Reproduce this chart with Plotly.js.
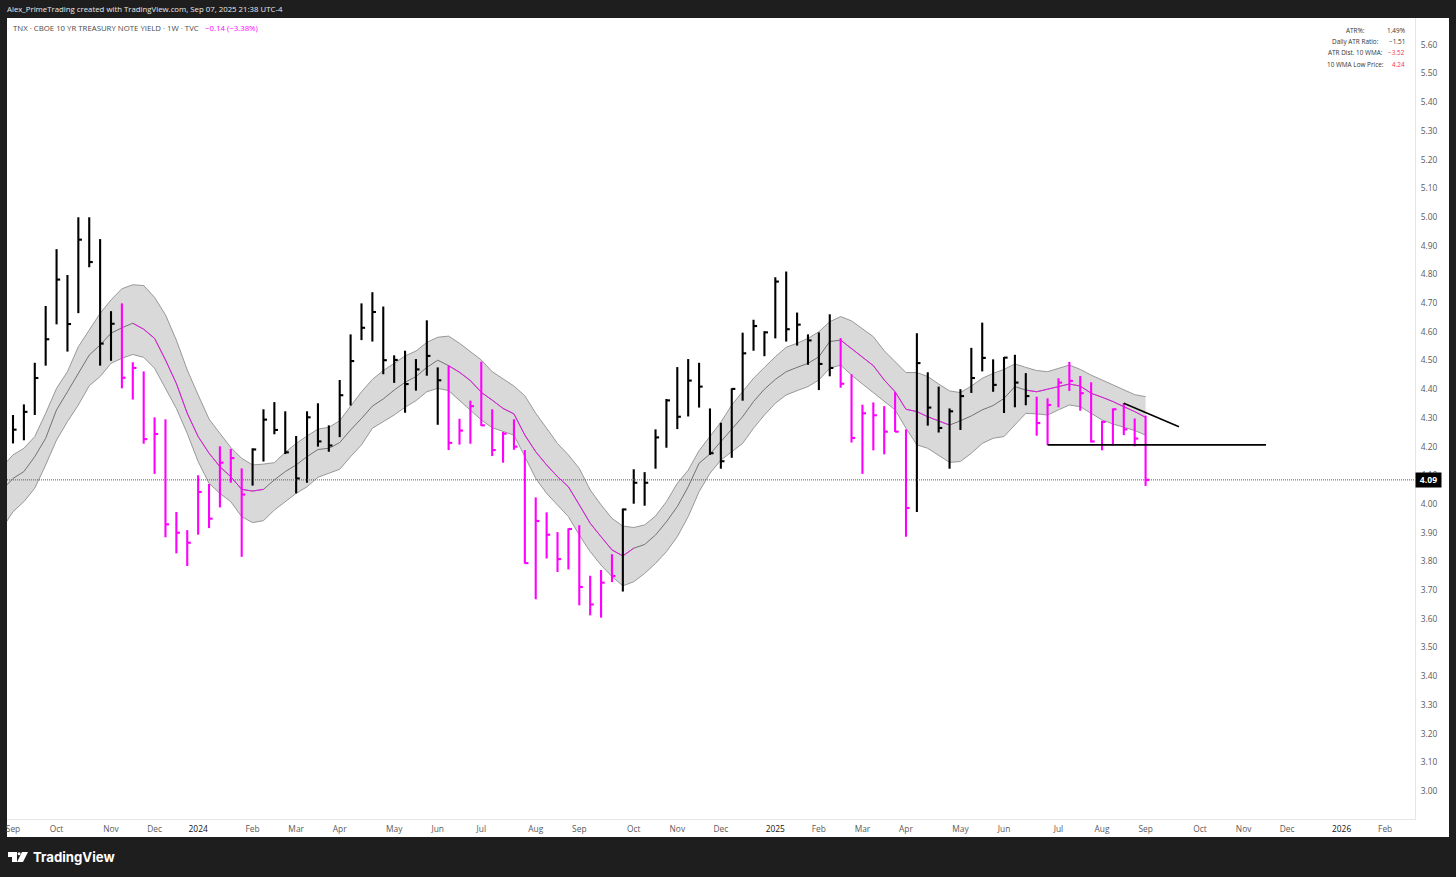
<!DOCTYPE html>
<html>
<head>
<meta charset="utf-8">
<script src="https://cdn.plot.ly/plotly-3.0.1.min.js"></script>
<style>html,body{margin:0;padding:0;background:#1e1e1e;overflow:hidden}#c{width:1456px;height:877px}</style>
</head>
<body>
<div id="c"></div>
<script>
const high = [4.310,4.347,4.492,4.690,4.888,4.798,4.999,4.999,4.923,4.672,
4.699,4.494,4.462,4.302,4.295,3.972,3.909,4.100,4.070,4.201,
4.192,4.124,4.194,4.330,4.355,4.323,4.237,4.323,4.351,4.274,
4.432,4.591,4.699,4.738,4.688,4.518,4.534,4.505,4.640,4.476,
4.482,4.297,4.360,4.496,4.330,4.251,4.295,4.188,4.023,3.971,
3.902,3.915,3.926,3.750,3.770,3.825,3.984,4.121,4.111,4.260,
4.366,4.477,4.505,4.492,4.333,4.283,4.403,4.597,4.642,4.602,
4.790,4.810,4.667,4.591,4.598,4.661,4.578,4.452,4.346,4.354,
4.341,4.390,4.260,4.595,4.459,4.409,4.333,4.400,4.544,4.632,
4.504,4.512,4.520,4.456,4.374,4.368,4.438,4.495,4.446,4.424,
4.290,4.333,4.352,4.298,4.308];
const low = [4.211,4.222,4.310,4.482,4.626,4.531,4.665,4.825,4.482,4.499,
4.403,4.364,4.210,4.105,3.884,3.828,3.784,3.893,3.916,3.988,
4.074,3.816,4.064,4.148,4.243,4.174,4.037,4.074,4.200,4.182,
4.233,4.343,4.571,4.566,4.452,4.422,4.318,4.395,4.447,4.276,
4.188,4.207,4.210,4.272,4.167,4.144,4.189,3.792,3.668,3.810,
3.763,3.772,3.647,3.612,3.604,3.728,3.695,4.001,3.994,4.123,
4.196,4.261,4.305,4.336,4.171,4.123,4.161,4.360,4.534,4.515,
4.577,4.566,4.552,4.485,4.397,4.445,4.405,4.214,4.105,4.187,
4.173,4.251,3.886,3.972,4.273,4.249,4.123,4.258,4.387,4.462,
4.391,4.317,4.337,4.344,4.238,4.206,4.337,4.394,4.325,4.214,
4.187,4.203,4.240,4.201,4.063];
const close = [4.259,4.321,4.439,4.574,4.782,4.627,4.921,4.843,4.559,4.628,
4.440,4.474,4.226,4.244,3.929,3.900,3.865,4.042,3.949,4.144,
4.160,4.033,4.190,4.294,4.258,4.180,4.089,4.302,4.218,4.204,
4.379,4.498,4.614,4.669,4.501,4.502,4.418,4.469,4.516,4.431,
4.213,4.256,4.341,4.274,4.188,4.245,4.200,3.794,3.941,3.893,
3.808,3.913,3.711,3.650,3.726,3.749,3.981,4.074,4.074,4.232,
4.361,4.304,4.430,4.409,4.177,4.149,4.401,4.525,4.620,4.598,
4.775,4.609,4.625,4.570,4.488,4.474,4.419,4.230,4.316,4.309,
4.252,4.252,3.986,4.491,4.336,4.265,4.323,4.376,4.439,4.509,
4.415,4.510,4.423,4.376,4.282,4.345,4.423,4.429,4.386,4.218,
4.286,4.330,4.260,4.228,4.084];
// WMA channel values start one week before the first visible bar (index -1)
const bandUpper = [4.130,
4.171,4.194,4.235,4.316,4.403,4.461,4.548,4.606,4.664,4.711,
4.750,4.764,4.761,4.720,4.659,4.571,4.467,4.380,4.296,4.246,
4.197,4.159,4.136,4.139,4.144,4.180,4.211,4.237,4.261,4.267,
4.290,4.341,4.391,4.434,4.465,4.490,4.516,4.533,4.563,4.581,
4.585,4.560,4.531,4.502,4.461,4.436,4.411,4.377,4.316,4.264,
4.211,4.171,4.124,4.049,3.997,3.950,3.923,3.918,3.927,3.958,
4.008,4.072,4.118,4.186,4.237,4.285,4.345,4.391,4.438,4.476,
4.513,4.546,4.560,4.577,4.600,4.635,4.653,4.638,4.612,4.583,
4.534,4.496,4.458,4.458,4.444,4.418,4.394,4.388,4.411,4.438,
4.455,4.469,4.488,4.476,4.465,4.461,4.473,4.484,4.469,4.449,
4.432,4.415,4.397,4.381,4.374];
const wmaMid = [4.049,
4.089,4.113,4.165,4.229,4.328,4.391,4.455,4.519,4.554,4.595,
4.614,4.630,4.609,4.577,4.502,4.420,4.316,4.235,4.177,4.130,
4.095,4.051,4.045,4.051,4.084,4.113,4.136,4.165,4.190,4.194,
4.214,4.258,4.298,4.341,4.366,4.397,4.424,4.444,4.476,4.501,
4.482,4.459,4.430,4.389,4.362,4.333,4.314,4.240,4.182,4.136,
4.095,4.060,3.997,3.933,3.886,3.840,3.819,3.846,3.859,3.892,
3.938,3.991,4.060,4.142,4.174,4.217,4.258,4.304,4.357,4.400,
4.434,4.461,4.476,4.490,4.513,4.566,4.571,4.542,4.513,4.482,
4.432,4.391,4.330,4.322,4.304,4.289,4.275,4.290,4.307,4.328,
4.343,4.368,4.409,4.397,4.391,4.400,4.409,4.418,4.411,4.386,
4.372,4.357,4.339,4.322,4.302];
const bandLower = [3.915,
3.973,4.008,4.055,4.136,4.223,4.287,4.345,4.412,4.444,4.490,
4.508,4.521,4.511,4.473,4.403,4.333,4.246,4.148,4.072,4.037,
4.008,3.956,3.935,3.942,3.979,4.008,4.037,4.060,4.093,4.107,
4.121,4.165,4.206,4.264,4.287,4.310,4.337,4.360,4.391,4.403,
4.395,4.360,4.328,4.293,4.266,4.252,4.240,4.165,4.089,4.037,
3.997,3.956,3.892,3.834,3.787,3.747,3.715,3.729,3.758,3.793,
3.834,3.886,3.956,4.043,4.107,4.153,4.182,4.211,4.264,4.310,
4.351,4.380,4.395,4.409,4.432,4.473,4.484,4.449,4.418,4.389,
4.357,4.328,4.264,4.206,4.194,4.171,4.145,4.148,4.177,4.211,
4.229,4.235,4.275,4.316,4.314,4.310,4.328,4.345,4.339,4.316,
4.293,4.279,4.267,4.256,4.240];
const magentaBarRanges = [[10,21],[40,55],[76,82],[94,104]];
const magentaWmaRanges = [[11,23],[40,57],[76,86],[93,104]];
const xTickIndex = [0,4,9,13,17,22,26,30,35,39,43,48,52,57,61,65,70,74,78,82,87,91,96,100,104,109,113,117,122,126];
const xTickLabels = ['Sep','Oct','Nov','Dec','2024','Feb','Mar','Apr','May','Jun','Jul','Aug','Sep','Oct','Nov','Dec','2025','Feb','Mar','Apr','May','Jun','Jul','Aug','Sep','Oct','Nov','Dec','2026','Feb'];
const yTicks = [3.0,3.1,3.2,3.3,3.4,3.5,3.6,3.7,3.8,3.9,4.0,4.1,4.2,4.3,4.4,4.5,4.6,4.7,4.8,4.9,5.0,5.1,5.2,5.3,5.4,5.5,5.6];
const lastPrice = 4.084, lastPriceLabel = '4.09';
const supportLevel = 4.206, supportFrom = 95, supportTo = 115.06;
const trendX = [102, 107.07], trendY = [4.351, 4.269];
const statLabels = ['ATR%:','Daily ATR Ratio:','ATR Dist. 10 WMA:','10 WMA Low Price:'];
const statValues = ['1.49%','−1.51','−3.52','4.24'];
const statColors = ['#333333','#333333','#f23645','#f23645'];

const W=1456,H=877,L=7,R=1415,T=18,B=819;
const MAG='#ff00ff';
const px=x=>(x-L)/(R-L), py=y=>(B-y)/(B-T);
const isMag=i=>magentaBarRanges.some(r=>i>=r[0]&&i<=r[1]);
const wIdx=bandUpper.map((_,k)=>k-1);

function barTrace(pred,color){
  const x=[],y=[];
  high.forEach((h,i)=>{ if(!pred(i))return;
    x.push(i,i,null,i,i+0.33,null);
    y.push(low[i],h,null,close[i],close[i],null);
  });
  return {type:'scatter',mode:'lines',x,y,line:{color,width:2.1},hoverinfo:'skip',connectgaps:false};
}
const traces=[
 {type:'scatter',mode:'lines',x:wIdx,y:bandUpper,line:{color:'#989898',width:1},hoverinfo:'skip'},
 {type:'scatter',mode:'lines',x:wIdx,y:bandLower,line:{color:'#989898',width:1},fill:'tonexty',fillcolor:'#d9d9d9',hoverinfo:'skip'},
 {type:'scatter',mode:'lines',x:wIdx,y:wmaMid,line:{color:'#666666',width:0.9},hoverinfo:'skip'}
];
magentaWmaRanges.forEach(r=>{
  traces.push({type:'scatter',mode:'lines',x:wIdx.slice(r[0]+1,r[1]+2),y:wmaMid.slice(r[0]+1,r[1]+2),line:{color:MAG,width:0.8},hoverinfo:'skip'});
});
traces.push(barTrace(i=>!isMag(i),'#000000'));
traces.push(barTrace(isMag,MAG));
traces.push({type:'scatter',mode:'lines',x:[supportFrom,supportTo],y:[supportLevel,supportLevel],line:{color:'#000',width:1.8},hoverinfo:'skip'});
traces.push({type:'scatter',mode:'lines',x:trendX,y:trendY,line:{color:'#000',width:1.5},hoverinfo:'skip'});

const FONT='"Open Sans", Roboto, sans-serif';
const note=(x,y,text,color,size,anchor,extra)=>Object.assign({xref:'paper',yref:'paper',x:px(x),y:py(y),text,showarrow:false,xanchor:anchor||'left',yanchor:'middle',font:{family:FONT,size,color},borderpad:0},extra||{});
const anns=[
 note(6,9,'Alex_PrimeTrading created with TradingView.com, Sep 07, 2025 21:38 UTC-4','#e8e8e8',7.8),
 note(12,27.5,'TNX · CBOE 10 YR TREASURY NOTE YIELD · 1W · TVC','#4a4a4a',7.8),
 note(204,27.5,'−0.14 (−3.38%)',MAG,7.8),
 note(32,857,'<b>TradingView</b>','#ffffff',13.2,'left',{font:{family:'Inter, Roboto, sans-serif',size:13.2,color:'#ffffff'}})
];
statLabels.forEach((t,i)=>{
  const y=[30,41.5,52.5,64][i];
  anns.push(note(1355,y,t,'#333333',6.4,'center'));
  anns.push(note(1405.5,y,statValues[i],statColors[i],6.4,'right'));
});
anns.push({xref:'paper',yref:'y',x:px(1428),y:lastPrice,text:'<b>'+lastPriceLabel+'</b>',showarrow:false,xanchor:'center',yanchor:'middle',bgcolor:'#000000',width:25,height:14,borderpad:0,font:{family:FONT,size:8.6,color:'#ffffff'}});

const rectP=(x0,y0,x1,y1,fill)=>({type:'rect',xref:'paper',yref:'paper',x0:px(x0),x1:px(x1),y0:py(y0),y1:py(y1),fillcolor:fill,line:{width:0},layer:'below'});
const P=(x,y)=>px(x).toFixed(5)+','+py(y).toFixed(5);
const logoPath=pts=>({type:'path',xref:'paper',yref:'paper',path:'M'+pts.map(p=>P(p[0],p[1])).join(' L')+' Z',fillcolor:'#ffffff',line:{width:0},layer:'above'});
const shapes=[
 rectP(7,18,1449,837,'#ffffff'),
 {type:'line',xref:'paper',yref:'y',x0:0,x1:1,y0:lastPrice,y1:lastPrice,line:{color:'#5a5a5a',width:1,dash:'1px,1px'},layer:'above'},
 logoPath([[8,852],[17,852],[17,862],[12,862],[12,857],[8,857]]),
 logoPath([[22,852],[28,852],[23,862],[17,862]]),
 {type:'circle',xref:'paper',yref:'paper',x0:px(17.6),x1:px(20.6),y0:py(852.3),y1:py(855.3),fillcolor:'#fff',line:{width:0},layer:'above'}
];

const layout={
 width:W,height:H,paper_bgcolor:'#1e1e1e',plot_bgcolor:'#ffffff',showlegend:false,hovermode:false,
 margin:{l:L,r:W-R,t:T,b:H-B,pad:0},
 xaxis:{range:[-0.551,128.74],tickmode:'array',tickvals:xTickIndex,
   ticktext:xTickLabels.map(t=>/^\d/.test(t)?'<span style="color:#111">'+t+'</span>':t),
   showgrid:false,zeroline:false,showline:true,linecolor:'#e6e6e6',linewidth:1,ticks:'outside',ticklen:2,tickcolor:'rgba(0,0,0,0)',
   tickangle:0,tickfont:{family:FONT,size:8.4,color:'#5a5a5a'},fixedrange:true},
 yaxis:{side:'right',range:[2.9024,5.6934],tickmode:'array',tickvals:yTicks,ticktext:yTicks.map(v=>v.toFixed(2)),
   showgrid:false,zeroline:false,showline:true,linecolor:'#e6e6e6',linewidth:1,ticks:'outside',ticklen:3,tickcolor:'rgba(0,0,0,0)',
   tickfont:{family:FONT,size:8.4,color:'#5a5a5a'},fixedrange:true},
 annotations:anns,shapes
};
Plotly.newPlot('c',traces,layout,{displayModeBar:false,staticPlot:true});
</script>
</body>
</html>
